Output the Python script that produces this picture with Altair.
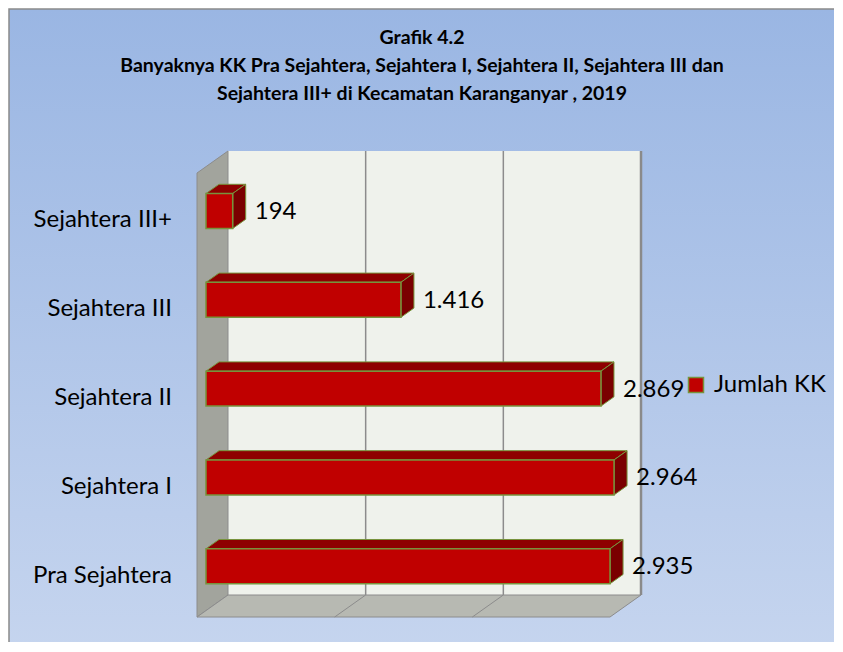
import altair as alt
import pandas as pd

# ---------------- data ----------------
categories = ["Pra Sejahtera", "Sejahtera I", "Sejahtera II", "Sejahtera III", "Sejahtera III+"]
values = [2935, 2964, 2869, 1416, 194]
series_name = "Jumlah KK"
title_lines = [
    "Grafik 4.2",
    "Banyaknya KK Pra Sejahtera, Sejahtera I, Sejahtera II, Sejahtera III dan",
    "Sejahtera III+ di Kecamatan Karanganyar , 2019",
]
grid_values = [1000, 2000]
x_max = 3000

# ---------------- geometry / style ----------------
FONT = "Lato"
FRONT_W = 413      # px of 0..x_max on the front plane
FRONT_H = 444      # px of the category extent on the front plane
DEPTH_X = 31       # 3-D depth offset (px)
DEPTH_Y = 22
kx = FRONT_W / x_max
ky = FRONT_H / len(categories)
DXU = DEPTH_X / kx
DYU = DEPTH_Y / ky
F1, F2 = 0.29, 0.71   # bar front / back depth fraction
HALF = 0.197          # half bar thickness in category units
PLOT_W = FRONT_W + DEPTH_X
PLOT_H = FRONT_H + DEPTH_Y
Y_LO = -0.5
Y_HI = len(categories) - 0.5

PAD_L, PAD_T = 189, 143
CANVAS_W, CANVAS_H = 826, 634

xs = alt.Scale(domain=[0, x_max + DXU], nice=False, zero=False)
ys = alt.Scale(domain=[Y_LO, Y_HI + DYU], nice=False, zero=False)


def X(f):
    return alt.X(f, type="quantitative", scale=xs, axis=None)


def X2(f):
    return alt.X2(f)


def Y(f):
    return alt.Y(f, type="quantitative", scale=ys, axis=None, stack=None)


def Y2(f):
    return alt.Y2(f)


GREEN = "#77933C"
EDGE = "#8C8C8C"

# ---------------- tables ----------------
bars = pd.DataFrame({
    "category": categories,
    "value": values,
    "idx": list(range(len(categories))),
    "series": series_name,
})
bars["label"] = [f"{v:,}".replace(",", ".") for v in values]
bars["fx"] = F1 * DXU
bars["fx2"] = bars["value"] + F1 * DXU
bars["fy"] = bars["idx"] - HALF + F1 * DYU
bars["fy2"] = bars["idx"] + HALF + F1 * DYU
bars["fyc"] = bars["idx"] + F1 * DYU
bars["lx"] = bars["value"] + F2 * DXU

top_rows, side_rows = [], []
for c, v, i in zip(categories, values, range(len(categories))):
    for f in (F1, F2):
        top_rows.append({"category": c, "y": i + HALF + f * DYU, "x": f * DXU, "x2": v + f * DXU})
        side_rows.append({"category": c, "x": v + f * DXU, "y": i - HALF + f * DYU, "y2": i + HALF + f * DYU})
top_df = pd.DataFrame(top_rows)
side_df = pd.DataFrame(side_rows)

back_df = pd.DataFrame([{"x": DXU, "x2": x_max + DXU, "y": Y_LO + DYU, "y2": Y_HI + DYU}])
left_df = pd.DataFrame([
    {"x": 0, "y": Y_LO, "y2": Y_HI},
    {"x": DXU, "y": Y_LO + DYU, "y2": Y_HI + DYU},
])
floor_df = pd.DataFrame([
    {"y": Y_LO, "x": 0, "x2": x_max},
    {"y": Y_LO + DYU, "x": DXU, "x2": x_max + DXU},
])
grid_back = pd.DataFrame({"x": [g + DXU for g in grid_values], "y": Y_LO + DYU, "y2": Y_HI + DYU})
grid_floor = pd.DataFrame({"x": grid_values, "x2": [g + DXU for g in grid_values],
                           "y": Y_LO, "y2": Y_LO + DYU})
right_edge = pd.DataFrame([{"x": x_max + DXU, "y": Y_LO + DYU, "y2": Y_HI + DYU}])
one = pd.DataFrame([{"a": 1}])

# ---------------- layers ----------------
bg = alt.Chart(one).mark_rect(
    fill=alt.Gradient(gradient="linear", x1=0, x2=0, y1=0, y2=1,
                      stops=[alt.GradientStop(color="#9AB6E3", offset=0),
                             alt.GradientStop(color="#DEE6F5", offset=1)]),
    stroke="#8A8A8A", strokeWidth=1.5,
).encode(
    x=alt.value(-PAD_L + 1), x2=alt.value(PLOT_W + 400),
    y=alt.value(-PAD_T + 1), y2=alt.value(PLOT_H + 400),
)

back = alt.Chart(back_df).mark_rect(fill="#EFF2EC").encode(
    x=X("x"), x2=X2("x2"), y=Y("y"), y2=Y2("y2"))

left = alt.Chart(left_df).mark_area(
    orient="vertical", fill="#A2A49D", stroke=EDGE, strokeWidth=1
).encode(x=X("x"), y=Y("y"), y2=Y2("y2"))

floor = alt.Chart(floor_df).mark_area(
    orient="horizontal", fill="#B7B9B2", stroke=EDGE, strokeWidth=1
).encode(y=Y("y"), x=X("x"), x2=X2("x2"))

gb = alt.Chart(grid_back).mark_rule(color=EDGE, strokeWidth=1.5).encode(
    x=X("x"), y=Y("y"), y2=Y2("y2"))
gf = alt.Chart(grid_floor).mark_rule(color=EDGE, strokeWidth=1).encode(
    x=X("x"), x2=X2("x2"), y=Y("y"), y2=Y2("y2"))
re_ = alt.Chart(right_edge).mark_rule(color="#8A8A8A", strokeWidth=2.5).encode(
    x=X("x"), y=Y("y"), y2=Y2("y2"))

top = alt.Chart(top_df).mark_area(
    orient="horizontal", fill="#8E0000", stroke=GREEN, strokeWidth=1
).encode(y=Y("y"), x=X("x"), x2=X2("x2"), detail="category:N")

side = alt.Chart(side_df).mark_area(
    orient="vertical", fill="#7A0000", stroke=GREEN, strokeWidth=1
).encode(x=X("x"), y=Y("y"), y2=Y2("y2"), detail="category:N")

front = alt.Chart(bars).mark_rect(stroke=GREEN, strokeWidth=1.5).encode(
    x=X("fx"), x2=X2("fx2"), y=Y("fy"), y2=Y2("fy2"),
    color=alt.Color("series:N", scale=alt.Scale(range=["#C00000"]),
                    legend=alt.Legend(orient="none", legendX=487, legendY=222, title=None,
                                      padding=0, symbolType="square", symbolSize=225,
                                      symbolStrokeColor=GREEN, symbolStrokeWidth=1.5,
                                      labelFont=FONT, labelFontSize=24, labelColor="#000000",
                                      labelOffset=6)),
)

vlabels = alt.Chart(bars).mark_text(
    align="left", baseline="middle", dx=9, dy=1, font=FONT, fontSize=24, color="#000000"
).encode(x=X("lx"), y=Y("fyc"), text="label:N")

clabels = alt.Chart(bars).mark_text(
    align="right", baseline="middle", dy=3, font=FONT, fontSize=24, color="#000000"
).encode(x=alt.value(-25), y=Y("idx"), text="category:N")

title = alt.Chart(one).mark_text(
    text=title_lines, align="center", baseline="top", font=FONT, fontSize=19.5,
    fontWeight="bold", lineHeight=28, color="#000000"
).encode(x=alt.value(422 - 197), y=alt.value(29 - 151))

chart = alt.layer(
    bg, back, gb, left, floor, gf, re_, top, side, front, vlabels, clabels, title
).properties(
    width=PLOT_W, height=PLOT_H,
    padding={"left": PAD_L, "top": PAD_T,
             "right": CANVAS_W - PAD_L - PLOT_W, "bottom": CANVAS_H - PAD_T - PLOT_H},
    autosize="none",
).configure_view(strokeWidth=0).configure(background="white")

chart.save("out.html", embed_options={"renderer": "svg", "actions": False})
